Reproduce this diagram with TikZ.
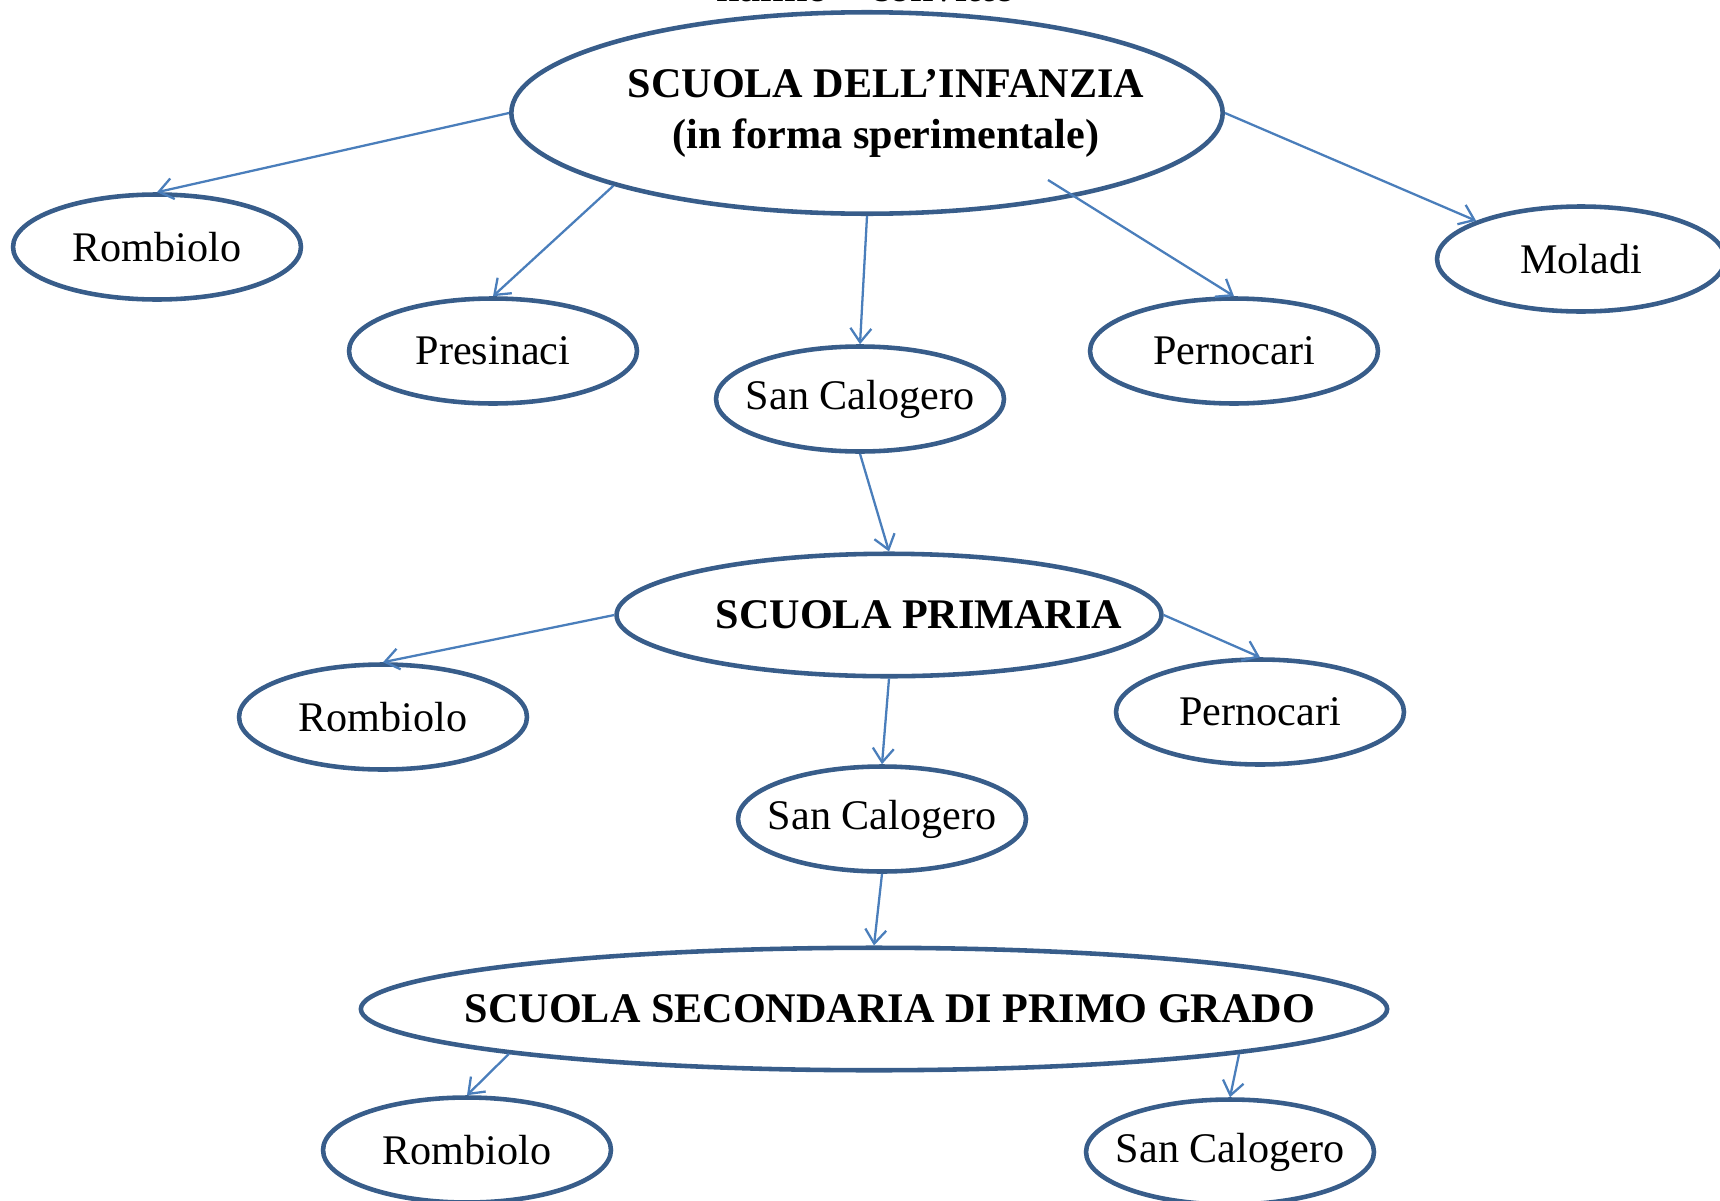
\documentclass[tikz,border=0pt]{standalone}
\usepackage{fontspec}
\setmainfont{Liberation Serif}
\usetikzlibrary{shapes.geometric,arrows.meta}
\definecolor{rimblue}{HTML}{385D8A}
\definecolor{linkblue}{HTML}{4A7EBB}
\newcommand{\nowide}[1]{\makebox[0pt]{#1}}

\begin{document}
\begin{tikzpicture}[
    x=0.02cm,y=-0.02cm,
    school/.style={ellipse,draw=rimblue,line width=2.6pt,inner sep=0pt,align=center,
      minimum width=5.76cm,minimum height=2.1cm,font=\fontsize{24}{29}\selectfont},
    level/.style={school,minimum height=2.45cm,font=\fontsize{24}{29}\selectfont\bfseries},
    link/.style={draw=linkblue,line width=1.3pt,-{Straight Barb[length=0.28cm,width=0.42cm]}}]
  \useasboundingbox (0,0) rectangle (1720,1200);
  \clip (0,0) rectangle (1720,1200);
  \node[anchor=base,font=\fontsize{24}{29}\selectfont\bfseries] (cut) at (866,2) {hanno\quad convitto};
  % infanzia
  \node[level,minimum width=14.23cm,minimum height=4.03cm] (infanzia) at (867,113)
    {\nowide{\hspace*{0.76cm}SCUOLA DELL’INFANZIA}\\\nowide{\hspace*{0.76cm}(in forma sperimentale)}};
  \node[school] (rombA) at (157,247) {\nowide{Rombiolo}};
  \node[school] (presinaci) at (493,351) {\nowide{Presinaci}};
  \node[school] (calA) at (860,399) {\nowide{San Calogero}};
  \node[school] (pernA) at (1234,351) {\nowide{Pernocari}};
  \node[school] (moladi) at (1581,259) {\nowide{Moladi}};
  % primaria
  \node[level,minimum width=10.9cm] (primaria) at (889,615) {\nowide{\hspace*{1.2cm}SCUOLA PRIMARIA}};
  \node[school] (rombB) at (383,717) {\nowide{Rombiolo}};
  \node[school] (calB) at (882,819) {\nowide{San Calogero}};
  \node[school] (pernB) at (1260,712) {\nowide{Pernocari}};
  % secondaria
  \node[level,minimum width=20.53cm] (secondaria) at (874,1009)
    {\nowide{\hspace*{0.64cm}SCUOLA SECONDARIA DI PRIMO GRADO}};
  \node[school] (rombC) at (467,1150) {\nowide{Rombiolo}};
  \node[school] (calC) at (1230,1152) {\nowide{San Calogero}};
  \coordinate (pernstart) at (1048,180);

  \draw[link] (infanzia.west) -- (rombA.north);
  \draw[link] (infanzia.196) -- (presinaci.north);
  \draw[link] (infanzia.south) -- (calA.north);
  \draw[link] (pernstart) -- (pernA.north);
  \draw[link] (infanzia.east) -- (moladi.160);
  \draw[link] (calA.south) -- (primaria.north);
  \draw[link] (primaria.west) -- (rombB.north);
  \draw[link] (primaria.south) -- (calB.north);
  \draw[link] (primaria.east) -- (pernB.north);
  \draw[link] (calB.south) -- (secondaria.north);
  \draw[link] (secondaria.187) -- (rombC.north);
  \draw[link] (secondaria.-7) -- (calC.north);
\end{tikzpicture}
\end{document}
